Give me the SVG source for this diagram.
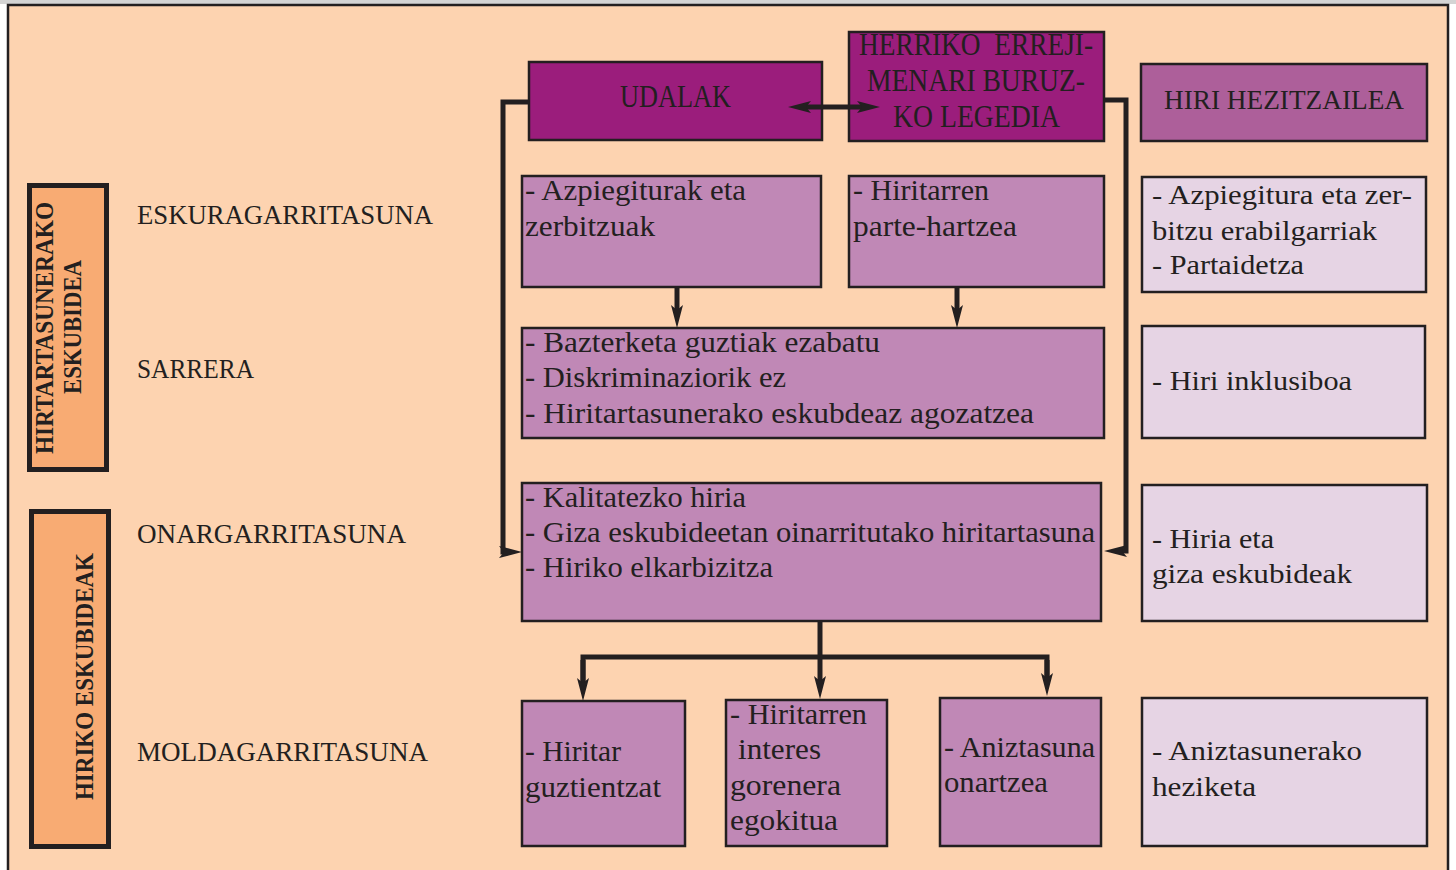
<svg xmlns="http://www.w3.org/2000/svg" width="1456" height="870" viewBox="0 0 1456 870">
<defs>
<style>
.bg{fill:#FDD3B0;stroke:#231F20;stroke-width:2.5}
.org{fill:#F8AB73;stroke:#231F20;stroke-width:5}
.dk{fill:#9B1D7C;stroke:#231F20;stroke-width:2.5}
.md{fill:#AD5F9A;stroke:#231F20;stroke-width:2.5}
.pu{fill:#C088B6;stroke:#231F20;stroke-width:2.5}
.lt{fill:#E6D4E4;stroke:#231F20;stroke-width:2.5}
text{font-family:"Liberation Serif","Times New Roman",serif;fill:#231F20;}
.lab{font-size:26.5px}
.vt{font-size:26px;font-weight:bold}
.bx{font-size:30px}
.rt{font-size:27px}
.hd{font-size:31px}
.con{fill:none;stroke:#231F20;stroke-width:5}
</style>
<marker id="ah" markerUnits="userSpaceOnUse" markerWidth="24" markerHeight="14" viewBox="0 0 24 14" refX="10" refY="7" orient="auto">
<path d="M0,1 L23,7 L0,13 L5,7 Z" fill="#231F20"/>
</marker>
<marker id="ahs" markerUnits="userSpaceOnUse" markerWidth="24" markerHeight="14" viewBox="0 0 24 14" refX="10" refY="7" orient="auto-start-reverse">
<path d="M0,1 L23,7 L0,13 L5,7 Z" fill="#231F20"/>
</marker>
</defs>
<rect x="0" y="0" width="1456" height="870" fill="#FFFFFF"/>
<rect x="0" y="0" width="1456" height="4" fill="#D4D4D4"/>
<rect class="bg" x="8" y="5" width="1440" height="900"/>

<g id="side-labels">
<text class="lab" x="137" y="224" textLength="296" lengthAdjust="spacingAndGlyphs">ESKURAGARRITASUNA</text>
<text class="lab" x="137" y="378" textLength="117" lengthAdjust="spacingAndGlyphs">SARRERA</text>
<text class="lab" x="137" y="543" textLength="269" lengthAdjust="spacingAndGlyphs">ONARGARRITASUNA</text>
<text class="lab" x="137" y="761" textLength="291" lengthAdjust="spacingAndGlyphs">MOLDAGARRITASUNA</text>
</g>

<g id="hiritartasunerako">
<rect class="org" x="29.5" y="185.5" width="77" height="284"/>
<text class="vt" transform="translate(53,454) rotate(-90)" textLength="252" lengthAdjust="spacingAndGlyphs">HIRTARTASUNERAKO</text>
<text class="vt" transform="translate(81,394) rotate(-90)" textLength="134" lengthAdjust="spacingAndGlyphs">ESKUBIDEA</text>
</g>

<g id="hiriko-eskubideak">
<rect class="org" x="31.5" y="511.5" width="77" height="335"/>
<text class="vt" transform="translate(93,800) rotate(-90)" textLength="247" lengthAdjust="spacingAndGlyphs">HIRIKO ESKUBIDEAK</text>
</g>

<g id="udalak">
<rect class="dk" x="529" y="62" width="293" height="78"/>
<text class="hd" x="620" y="107" textLength="111" lengthAdjust="spacingAndGlyphs">UDALAK</text>
</g>

<g id="herriko">
<rect class="dk" x="849" y="32" width="255" height="109"/>
<text class="hd" x="859" y="55" textLength="234" lengthAdjust="spacingAndGlyphs" xml:space="preserve">HERRIKO  ERREJI-</text>
<text class="hd" x="867" y="91" textLength="218" lengthAdjust="spacingAndGlyphs">MENARI BURUZ-</text>
<text class="hd" x="893" y="127" textLength="167" lengthAdjust="spacingAndGlyphs">KO LEGEDIA</text>
</g>

<g id="hiri-hezitzailea">
<rect class="md" x="1141" y="64" width="286" height="77"/>
<text class="rt" x="1164" y="109" textLength="240" lengthAdjust="spacingAndGlyphs">HIRI HEZITZAILEA</text>
</g>

<g id="azpiegiturak">
<rect class="pu" x="522" y="176" width="299" height="111"/>
<text class="bx" x="525" y="200" textLength="221" lengthAdjust="spacingAndGlyphs">- Azpiegiturak eta</text>
<text class="bx" x="525" y="236" textLength="130" lengthAdjust="spacingAndGlyphs">zerbitzuak</text>
</g>

<g id="hiritarren-parte">
<rect class="pu" x="849" y="176" width="255" height="111"/>
<text class="bx" x="853" y="200" textLength="136" lengthAdjust="spacingAndGlyphs">- Hiritarren</text>
<text class="bx" x="853" y="236" textLength="164" lengthAdjust="spacingAndGlyphs">parte-hartzea</text>
</g>

<g id="bazterketa">
<rect class="pu" x="522" y="328" width="582" height="110"/>
<text class="bx" x="525" y="352" textLength="355" lengthAdjust="spacingAndGlyphs">- Bazterketa guztiak ezabatu</text>
<text class="bx" x="525" y="387" textLength="261" lengthAdjust="spacingAndGlyphs">- Diskriminaziorik ez</text>
<text class="bx" x="525" y="423" textLength="509" lengthAdjust="spacingAndGlyphs">- Hiritartasunerako eskubdeaz agozatzea</text>
</g>

<g id="kalitatezko">
<rect class="pu" x="522" y="483" width="579" height="138"/>
<text class="bx" x="525" y="507" textLength="221" lengthAdjust="spacingAndGlyphs">- Kalitatezko hiria</text>
<text class="bx" x="525" y="542" textLength="570" lengthAdjust="spacingAndGlyphs">- Giza eskubideetan oinarritutako hiritartasuna</text>
<text class="bx" x="525" y="577" textLength="248" lengthAdjust="spacingAndGlyphs">- Hiriko elkarbizitza</text>
</g>

<g id="hiritar-guztientzat">
<rect class="pu" x="522" y="701" width="163" height="145"/>
<text class="bx" x="525" y="761" textLength="96" lengthAdjust="spacingAndGlyphs">- Hiritar</text>
<text class="bx" x="525" y="797" textLength="136" lengthAdjust="spacingAndGlyphs">guztientzat</text>
</g>

<g id="hiritarren-interes">
<rect class="pu" x="726" y="700" width="161" height="146"/>
<text class="bx" x="730" y="724" textLength="137" lengthAdjust="spacingAndGlyphs">- Hiritarren</text>
<text class="bx" x="738" y="759" textLength="83" lengthAdjust="spacingAndGlyphs">interes</text>
<text class="bx" x="730" y="795" textLength="111" lengthAdjust="spacingAndGlyphs">gorenera</text>
<text class="bx" x="730" y="830" textLength="108" lengthAdjust="spacingAndGlyphs">egokitua</text>
</g>

<g id="aniztasuna">
<rect class="pu" x="940" y="698" width="161" height="148"/>
<text class="bx" x="944" y="757" textLength="151" lengthAdjust="spacingAndGlyphs">- Aniztasuna</text>
<text class="bx" x="944" y="792" textLength="104" lengthAdjust="spacingAndGlyphs">onartzea</text>
</g>

<g id="r-azpiegitura">
<rect class="lt" x="1142" y="177" width="284" height="115"/>
<text class="rt" x="1152" y="204" textLength="260" lengthAdjust="spacingAndGlyphs">- Azpiegitura eta zer-</text>
<text class="rt" x="1152" y="240" textLength="225" lengthAdjust="spacingAndGlyphs">bitzu erabilgarriak</text>
<text class="rt" x="1152" y="274" textLength="152" lengthAdjust="spacingAndGlyphs">- Partaidetza</text>
</g>

<g id="r-inklusiboa">
<rect class="lt" x="1142" y="326" width="283" height="112"/>
<text class="rt" x="1152" y="390" textLength="200" lengthAdjust="spacingAndGlyphs">- Hiri inklusiboa</text>
</g>

<g id="r-giza">
<rect class="lt" x="1142" y="485" width="285" height="136"/>
<text class="rt" x="1152" y="548" textLength="122" lengthAdjust="spacingAndGlyphs">- Hiria eta</text>
<text class="rt" x="1152" y="583" textLength="200" lengthAdjust="spacingAndGlyphs">giza eskubideak</text>
</g>

<g id="r-aniztasunerako">
<rect class="lt" x="1142" y="698" width="285" height="148"/>
<text class="rt" x="1152" y="760" textLength="210" lengthAdjust="spacingAndGlyphs">- Aniztasunerako</text>
<text class="rt" x="1152" y="796" textLength="104" lengthAdjust="spacingAndGlyphs">heziketa</text>
</g>

<g id="connectors">
<path class="con" d="M801,107 H867" marker-start="url(#ahs)" marker-end="url(#ah)"/>
<path class="con" d="M528,102 H503 V552 H509" marker-end="url(#ah)"/>
<path class="con" d="M1105,100 H1126 V551 H1117" marker-end="url(#ah)"/>
<path class="con" d="M677,288 V315" marker-end="url(#ah)"/>
<path class="con" d="M957,288 V315" marker-end="url(#ah)"/>
<path class="con" d="M820,622 V686" marker-end="url(#ah)"/>
<path class="con" d="M583,688 V657 H1047 V683"/>
<path class="con" d="M583,660 V688" marker-end="url(#ah)"/>
<path class="con" d="M1047,660 V683" marker-end="url(#ah)"/>
</g>
</svg>
